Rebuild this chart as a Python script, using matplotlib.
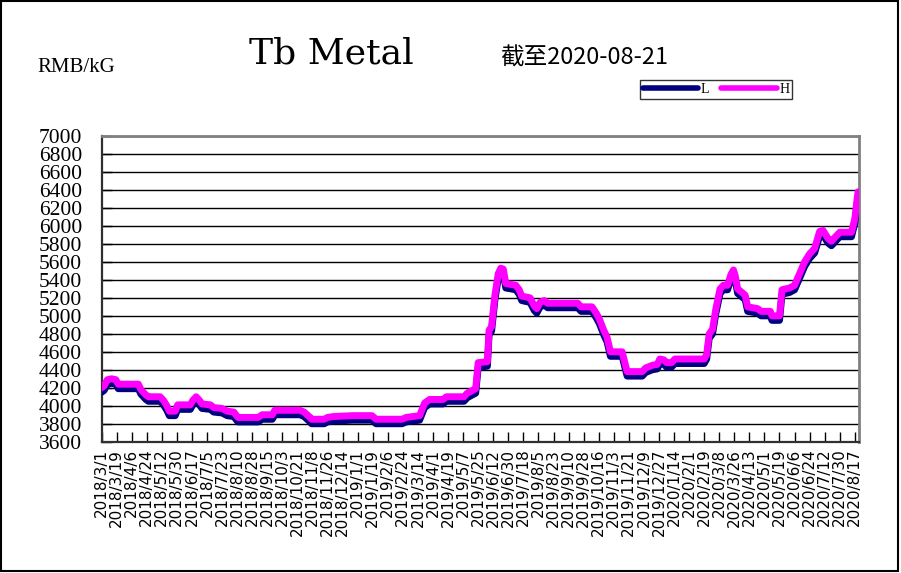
import matplotlib.pyplot as plt
import pandas as pd
from matplotlib.patches import Rectangle

# price data (RMB/kG)
dates = ['2018-03-01', '2018-03-04', '2018-03-08', '2018-03-13', '2018-03-18', '2018-03-21',
         '2018-04-14', '2018-04-17', '2018-04-23', '2018-04-26', '2018-05-10', '2018-05-14',
         '2018-05-18', '2018-05-21', '2018-05-28', '2018-05-31', '2018-06-15', '2018-06-18',
         '2018-06-22', '2018-06-26', '2018-06-29', '2018-07-09', '2018-07-13', '2018-07-23',
         '2018-07-29', '2018-08-06', '2018-08-11', '2018-09-04', '2018-09-09', '2018-09-21',
         '2018-09-24', '2018-10-24', '2018-10-29', '2018-11-04', '2018-11-07', '2018-11-22',
         '2018-11-26', '2018-12-03', '2018-12-26', '2019-01-18', '2019-01-23', '2019-02-23',
         '2019-02-28', '2019-03-16', '2019-03-19', '2019-03-22', '2019-03-28', '2019-04-13',
         '2019-04-17', '2019-05-08', '2019-05-12', '2019-05-22', '2019-05-25', '2019-06-05',
         '2019-06-07', '2019-06-10', '2019-06-14', '2019-06-18', '2019-06-21', '2019-06-24',
         '2019-06-27', '2019-07-09', '2019-07-13', '2019-07-16', '2019-07-26', '2019-07-31',
         '2019-08-03', '2019-08-07', '2019-08-12', '2019-08-16', '2019-09-21', '2019-09-25',
         '2019-10-08', '2019-10-13', '2019-10-17', '2019-10-22', '2019-10-26', '2019-10-30',
         '2019-11-13', '2019-11-17', '2019-11-19', '2019-12-07', '2019-12-11', '2019-12-19',
         '2019-12-25', '2019-12-28', '2020-01-02', '2020-01-05', '2020-01-11', '2020-01-15',
         '2020-02-19', '2020-02-22', '2020-02-25', '2020-02-29', '2020-03-04', '2020-03-09',
         '2020-03-13', '2020-03-18', '2020-03-22', '2020-03-25', '2020-03-27', '2020-03-30',
         '2020-04-08', '2020-04-11', '2020-04-23', '2020-04-27', '2020-05-08', '2020-05-10',
         '2020-05-19', '2020-05-22', '2020-05-31', '2020-06-06', '2020-06-12', '2020-06-18',
         '2020-06-24', '2020-06-30', '2020-07-06', '2020-07-10', '2020-07-16', '2020-07-20',
         '2020-07-25', '2020-07-30', '2020-08-13', '2020-08-17', '2020-08-20', '2020-08-21']

high = [4200, 4220, 4290, 4300, 4290, 4240,
        4240, 4180, 4120, 4100, 4100, 4060,
        4000, 3940, 3940, 4010, 4010, 4060,
        4100, 4060, 4020, 4010, 3980, 3970,
        3940, 3930, 3870, 3870, 3900, 3900,
        3950, 3950, 3930, 3880, 3850, 3850,
        3870, 3880, 3890, 3890, 3850, 3850,
        3870, 3890, 3960, 4030, 4070, 4070,
        4100, 4100, 4140, 4190, 4480, 4490,
        4840, 4880, 5230, 5470, 5530, 5520,
        5360, 5340, 5290, 5220, 5200, 5110,
        5080, 5150, 5170, 5140, 5140, 5100,
        5100, 5030, 4960, 4840, 4760, 4600,
        4600, 4450, 4380, 4380, 4420, 4450,
        4460, 4520, 4510, 4480, 4480, 4520,
        4520, 4570, 4800, 4850, 5080, 5300,
        5340, 5340, 5460, 5510, 5450, 5300,
        5230, 5100, 5080, 5050, 5050, 5000,
        5000, 5290, 5310, 5340, 5470, 5600,
        5690, 5750, 5940, 5950, 5860, 5830,
        5880, 5930, 5930, 6080, 6320, 6380]

low = [4150, 4170, 4240, 4250, 4240, 4190,
       4190, 4130, 4070, 4050, 4050, 4010,
       3950, 3890, 3890, 3960, 3960, 4010,
       4050, 4010, 3970, 3960, 3930, 3920,
       3890, 3880, 3820, 3820, 3850, 3850,
       3900, 3900, 3880, 3830, 3800, 3800,
       3820, 3830, 3840, 3840, 3800, 3800,
       3820, 3840, 3910, 3980, 4020, 4020,
       4050, 4050, 4090, 4140, 4430, 4440,
       4790, 4830, 5180, 5420, 5480, 5470,
       5310, 5290, 5240, 5170, 5150, 5060,
       5030, 5100, 5120, 5090, 5090, 5050,
       5050, 4980, 4910, 4790, 4710, 4550,
       4550, 4400, 4330, 4330, 4370, 4400,
       4410, 4470, 4460, 4430, 4430, 4470,
       4470, 4520, 4750, 4800, 5030, 5250,
       5290, 5290, 5410, 5460, 5400, 5250,
       5180, 5050, 5030, 5000, 5000, 4950,
       4950, 5240, 5260, 5290, 5420, 5550,
       5640, 5700, 5890, 5900, 5810, 5780,
       5830, 5880, 5880, 6030, 6270, 6330]

x = pd.to_datetime(dates)
tick_dates = pd.date_range('2018-03-01', '2020-08-17', freq='18D')

fig = plt.figure(figsize=(9.01, 5.73), dpi=100)
ax = fig.add_axes([0.1127, 0.2291, 0.8407, 0.5335])

ax.plot(x, low, color='#000080', lw=5, solid_joinstyle='round', solid_capstyle='round', label='L', zorder=3)
ax.plot(x, high, color='#FF00FF', lw=5, solid_joinstyle='round', solid_capstyle='round', label='H', zorder=4)

ax.set_ylim(3600, 7000)
ax.set_yticks(range(3600, 7001, 200))
ax.set_xlim(pd.Timestamp('2018-03-01'), pd.Timestamp('2020-08-22'))
ax.set_xticks(tick_dates)
ax.set_xticklabels([f'{d.year}/{d.month}/{d.day}' for d in tick_dates],
                   rotation=90, fontsize=11, family='DejaVu Sans')
for lab in ax.get_yticklabels():
    lab.set_family('Liberation Serif')
    lab.set_fontsize(15.5)

ax.grid(axis='y', color='black', lw=1)
ax.set_axisbelow(True)
ax.tick_params(axis='x', direction='in', length=7, width=1, color='black', pad=5)
ax.tick_params(axis='y', direction='in', length=7, width=1, color='black', pad=14)
for s in ['left', 'bottom']:
    ax.spines[s].set_color('#303030')
    ax.spines[s].set_linewidth(1.6)
for s in ['top', 'right']:
    ax.spines[s].set_color('#808080')
    ax.spines[s].set_linewidth(2)

fig.text(37 / 901, 1 - 67 / 573, 'RMB/kG', family='Liberation Serif', fontsize=15, va='center', ha='left')
fig.text(249 / 901, 1 - 54 / 573, 'Tb Metal', family='DejaVu Serif', fontsize=26, va='center', ha='left')
fig.text(500 / 901, 1 - 58 / 573, '截至2020-08-21', family=['Noto Sans CJK SC', 'DejaVu Sans'],
         fontsize=17, va='center', ha='left')

leg = fig.legend(loc='upper left', bbox_to_anchor=(640 / 901, 1 - 80 / 573), ncol=2,
                 prop={'family': 'Liberation Serif', 'size': 10}, frameon=True, fancybox=False,
                 handlelength=4.0, handletextpad=0.15, columnspacing=0.9, borderpad=0.2,
                 borderaxespad=0)
leg.get_frame().set_edgecolor('black')
leg.get_frame().set_linewidth(1)
for h in leg.get_lines():
    h.set_linewidth(4)

# outer frame
fig.patches.append(Rectangle((1 / 901, 2 / 573), 897 / 901, 570 / 573, transform=fig.transFigure,
                             fill=False, edgecolor='black', lw=1.5))

fig.savefig('out.png', dpi=100)
